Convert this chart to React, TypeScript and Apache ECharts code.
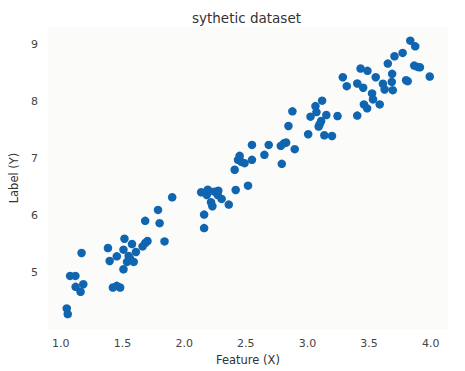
import React, { useEffect, useRef } from "react";
import * as echarts from "echarts";

const featureX: number[] = [
  1.048, 1.056, 1.075, 1.118, 1.12, 1.182, 1.16, 1.168, 1.382, 1.396,
  1.422, 1.454, 1.481, 1.454, 1.508, 1.508, 1.516, 1.55, 1.561, 1.537,
  1.591, 1.577, 1.609, 1.663, 1.684, 1.703, 1.841, 1.684, 1.801, 1.788,
  1.903, 2.138, 2.192, 2.184, 2.245, 2.277, 2.272, 2.304, 2.218, 2.229,
  2.362, 2.162, 2.162, 2.418, 2.518, 2.41, 2.45, 2.437, 2.464, 2.49,
  2.55, 2.55, 2.651, 2.686, 2.784, 2.811, 2.827, 2.792, 2.897, 2.846,
  2.878, 3.006, 3.137, 3.199, 3.111, 3.099, 3.091, 3.025, 3.073, 3.065,
  3.119, 3.153, 3.244, 3.287, 3.319, 3.404, 3.452, 3.404, 3.431, 3.487,
  3.554, 3.524, 3.532, 3.458, 3.484, 3.586, 3.612, 3.626, 3.652, 3.687,
  3.684, 3.692, 3.706, 3.772, 3.834, 3.874, 3.866, 3.893, 3.912, 3.8,
  3.813, 3.992,
];

const labelY: number[] = [
  4.371, 4.272, 4.942, 4.942, 4.75, 4.796, 4.663, 5.344, 5.431, 5.204,
  4.738, 4.768, 4.738, 5.285, 5.058, 5.402, 5.594, 5.292, 5.245, 5.187,
  5.187, 5.501, 5.362, 5.459, 5.519, 5.554, 5.547, 5.908, 5.868, 6.1,
  6.322, 6.41, 6.455, 6.362, 6.42, 6.438, 6.362, 6.293, 6.235, 6.165,
  6.193, 6.018, 5.781, 6.45, 6.525, 6.804, 7.049, 6.979, 6.944, 6.921,
  6.979, 7.241, 7.066, 7.241, 7.224, 7.271, 7.283, 6.909, 7.166, 7.573,
  7.83, 7.428, 7.41, 7.398, 7.66, 7.603, 7.562, 7.737, 7.817, 7.922,
  8.017, 7.765, 7.748, 8.429, 8.272, 8.319, 8.244, 7.755, 8.581, 8.541,
  8.429, 8.144, 8.039, 7.952, 7.882, 7.952, 8.314, 8.214, 8.668, 8.488,
  8.348, 8.202, 8.796, 8.855, 9.07, 8.97, 8.633, 8.61, 8.603, 8.376,
  8.359, 8.441,
];

const xTicks: number[] = [1.0, 1.5, 2.0, 2.5, 3.0, 3.5, 4.0];
const yTicks: number[] = [5, 6, 7, 8, 9];

const titleText = "sythetic dataset";
const xName = "Feature (X)";
const yName = "Label (Y)";

const FONT = "DejaVu Sans";

export default function App() {
  const ref = useRef<HTMLDivElement>(null);

  useEffect(() => {
    document.body.style.margin = "0";
    if (!ref.current) return;
    const chart = echarts.init(ref.current, undefined, { renderer: "svg" });
    const points = featureX.map((x, i) => [x, labelY[i]]);
    chart.setOption({
      animation: false,
      backgroundColor: "#ffffff",
      title: {
        text: titleText,
        left: 187,
        top: 6,
        textStyle: {
          fontFamily: FONT,
          fontSize: 13.5,
          fontWeight: "normal",
          color: "#333333",
        },
      },
      grid: {
        left: 45,
        right: 17,
        top: 27,
        bottom: 42,
        show: true,
        backgroundColor: "#fbfbf9",
        borderWidth: 0,
      },
      xAxis: {
        type: "value",
        min: 0.895,
        max: 4.14,
        name: xName,
        nameLocation: "middle",
        nameGap: 25,
        nameTextStyle: { fontFamily: FONT, fontSize: 11.5, color: "#333333" },
        axisLine: { show: false },
        axisTick: { show: false, customValues: xTicks },
        axisLabel: {
          customValues: xTicks,
          formatter: (v: number) => v.toFixed(1),
          fontFamily: FONT,
          fontSize: 11,
          color: "#444444",
          margin: 9,
        },
        splitLine: { show: false },
      },
      yAxis: {
        type: "value",
        min: 4.01,
        max: 9.31,
        name: yName,
        nameLocation: "middle",
        nameGap: 21,
        nameTextStyle: { fontFamily: FONT, fontSize: 11.5, color: "#333333" },
        axisLine: { show: false },
        axisTick: { show: false, customValues: yTicks },
        axisLabel: {
          customValues: yTicks,
          formatter: (v: number) => String(Math.round(v)),
          fontFamily: FONT,
          fontSize: 11,
          color: "#444444",
          margin: 10,
        },
        splitLine: { show: false },
      },
      series: [
        {
          type: "scatter",
          data: points,
          symbolSize: 8.5,
          itemStyle: { color: "#1065b0", opacity: 1 },
        },
      ],
    });
    return () => chart.dispose();
  }, []);

  return <div ref={ref} style={{ width: 465, height: 371 }} />;
}
